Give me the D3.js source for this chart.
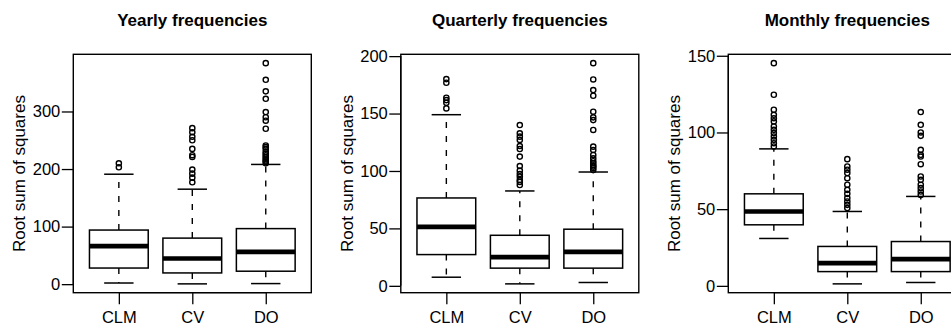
<!DOCTYPE html>
<html>
<head>
<meta charset="utf-8">
<script src="https://cdn.jsdelivr.net/npm/d3@7"></script>
<style>
  html, body { margin: 0; padding: 0; background: #fff; }
  svg { display: block; }
  text { font-family: "Liberation Sans", Arial, Helvetica, sans-serif; fill: #000; }
</style>
</head>
<body>
<svg id="chart" width="951" height="325"></svg>
<script>
// Groups shown on every panel
const categories = ["CLM", "CV", "DO"];
const panelTitles = ["Yearly frequencies", "Quarterly frequencies", "Monthly frequencies"];
const yAxisLabel = "Root sum of squares";

// Five-number summaries per group: [lower whisker, Q1, median, Q3, upper whisker]
const yearlyStats = [
  [2, 28, 66, 94, 191],
  [0.5, 19.5, 44.5, 80, 165],
  [1, 22.5, 56, 96.5, 208]
];
const quarterlyStats = [
  [7.5, 27.2, 51.3, 76.5, 149],
  [1.7, 15.4, 25, 44, 82.6],
  [2.9, 15.4, 29.6, 49.3, 99.1]
];
const monthlyStats = [
  [30.9, 39.8, 48.5, 60, 89.3],
  [1.3, 9.3, 14.8, 25.7, 48.5],
  [2.2, 9.3, 17.4, 28.9, 58.3]
];

// Points beyond the whiskers
const yearlyOutliers = [
  [203, 210],
  [177, 185, 192, 199, 221, 224, 235, 250, 256, 264, 271],
  [210, 213, 215, 218, 221, 224, 227, 230, 235, 238, 241, 270, 284, 290, 299, 322, 335, 355, 384]
];
const quarterlyOutliers = [
  [154.5, 159.4, 161.7, 163.8, 176.8, 180],
  [87.8, 90.5, 92.2, 95, 97.4, 100.3, 104.3, 112.5, 119.1, 121.7, 127, 129.9, 132.8, 140],
  [100.9, 102.5, 103.8, 105, 106.7, 108.5, 111, 113.9, 118.3, 121.2, 135.7, 144.3, 146.7, 151.6, 165.5, 170.4, 179.7, 193.9]
];
const monthlyOutliers = [
  [90.9, 93, 95.2, 97.4, 99.6, 101.7, 103.9, 107.2, 109.3, 111.5, 114.8, 124.6, 145.2],
  [50.7, 52.8, 55, 57.2, 60, 62.6, 65.9, 70.2, 73.5, 75.7, 77.8, 82.6],
  [59.3, 61.5, 63.7, 65.9, 69.1, 71.3, 79.3, 84.3, 85.4, 88.7, 97.8, 100, 105, 113.3]
];

// Tick values on each panel's y axis
const yearlyTicks = [0, 100, 200, 300];
const quarterlyTicks = [0, 50, 100, 150, 200];
const monthlyTicks = [0, 50, 100, 150];

const panels = [
  { title: panelTitles[0], stats: yearlyStats, outliers: yearlyOutliers, ticks: yearlyTicks },
  { title: panelTitles[1], stats: quarterlyStats, outliers: quarterlyOutliers, ticks: quarterlyTicks },
  { title: panelTitles[2], stats: monthlyStats, outliers: monthlyOutliers, ticks: monthlyTicks }
];

// Panel geometry
const panelStep = 327.5;
const plotLeft = 73.3;
const plotW = 238;
const plotTop = 54.3;
const plotBottom = 292.7;
const tickLen = 11.5;
const boxWex = 0.8;
const stapleWex = 0.4;

const svg = d3.select("#chart");

panels.forEach((p, i) => {
  const left = plotLeft + i * panelStep;
  const g = svg.append("g");

  // Axis ranges padded by 4% like a base-graphics plot
  const lo = d3.min(p.stats, s => s[0]);
  const hi = d3.max(p.stats.map((s, k) => d3.max([s[4], ...p.outliers[k]])));
  const pad = (hi - lo) * 0.04;
  const y = d3.scaleLinear().domain([lo - pad, hi + pad]).range([plotBottom, plotTop]);
  const x = d3.scaleLinear().domain([0.38, 3.62]).range([left, left + plotW]);
  const unit = x(1) - x(0);

  // Title
  g.append("text")
    .attr("x", left + plotW / 2)
    .attr("y", 26)
    .attr("text-anchor", "middle")
    .style("font-size", "17px")
    .style("font-weight", "bold")
    .text(p.title);

  // y-axis label
  g.append("text")
    .attr("transform", `translate(${left - 48},${(plotTop + plotBottom) / 2}) rotate(-90)`)
    .attr("text-anchor", "middle")
    .style("font-size", "17px")
    .text(yAxisLabel);

  // y axis
  const yAxis = d3.axisLeft(y).tickValues(p.ticks).tickSize(tickLen).tickPadding(1.5).tickFormat(d3.format("d"));
  const ya = g.append("g").attr("transform", `translate(${left},0)`).call(yAxis);
  ya.select(".domain")
    .attr("d", `M0,${y(p.ticks[0])}V${y(p.ticks[p.ticks.length - 1])}`)
    .attr("stroke", "#000").attr("stroke-width", 1.3);
  ya.selectAll(".tick line").attr("stroke", "#000").attr("stroke-width", 1.3);
  ya.selectAll(".tick text")
    .style("font-size", "16.5px")
    .style("font-family", "'Liberation Sans', Arial, sans-serif")
    .attr("fill", "#000");

  // x axis
  const xAxis = d3.axisBottom(x).tickValues([1, 2, 3]).tickSize(tickLen).tickPadding(7)
    .tickFormat(d => categories[d - 1]);
  const xa = g.append("g").attr("transform", `translate(0,${plotBottom})`).call(xAxis);
  xa.select(".domain")
    .attr("d", `M${x(1)},0H${x(3)}`)
    .attr("stroke", "#000").attr("stroke-width", 1.3);
  xa.selectAll(".tick line").attr("stroke", "#000").attr("stroke-width", 1.3);
  xa.selectAll(".tick text")
    .style("font-size", "16.5px")
    .style("font-family", "'Liberation Sans', Arial, sans-serif")
    .attr("fill", "#000");

  // Boxes
  p.stats.forEach((s, k) => {
    const cx = x(k + 1);
    const hw = boxWex * unit / 2;
    const sw = stapleWex * unit / 2;
    const bg = g.append("g");

    // dashed whiskers
    bg.append("line")
      .attr("x1", cx).attr("x2", cx).attr("y1", y(s[1])).attr("y2", y(s[0]))
      .attr("stroke", "#000").attr("stroke-width", 1.4).attr("stroke-dasharray", "6,8");
    bg.append("line")
      .attr("x1", cx).attr("x2", cx).attr("y1", y(s[3])).attr("y2", y(s[4]))
      .attr("stroke", "#000").attr("stroke-width", 1.4).attr("stroke-dasharray", "6,8");

    // staples
    [s[0], s[4]].forEach(v => {
      bg.append("line")
        .attr("x1", cx - sw).attr("x2", cx + sw).attr("y1", y(v)).attr("y2", y(v))
        .attr("stroke", "#000").attr("stroke-width", 1.5);
    });

    // box
    bg.append("rect")
      .attr("x", cx - hw).attr("y", y(s[3]))
      .attr("width", 2 * hw).attr("height", y(s[1]) - y(s[3]))
      .attr("fill", "#fff").attr("stroke", "#000").attr("stroke-width", 1.5);

    // median
    bg.append("line")
      .attr("x1", cx - hw).attr("x2", cx + hw).attr("y1", y(s[2])).attr("y2", y(s[2]))
      .attr("stroke", "#000").attr("stroke-width", 4.6);

    // outliers
    bg.selectAll("circle").data(p.outliers[k]).enter().append("circle")
      .attr("cx", cx).attr("cy", d => y(d)).attr("r", 2.6)
      .attr("fill", "none").attr("stroke", "#000").attr("stroke-width", 1.4);
  });

  // Plot frame
  g.append("rect")
    .attr("x", left).attr("y", plotTop)
    .attr("width", plotW).attr("height", plotBottom - plotTop)
    .attr("fill", "none").attr("stroke", "#000").attr("stroke-width", 1.4);
});
</script>
</body>
</html>
